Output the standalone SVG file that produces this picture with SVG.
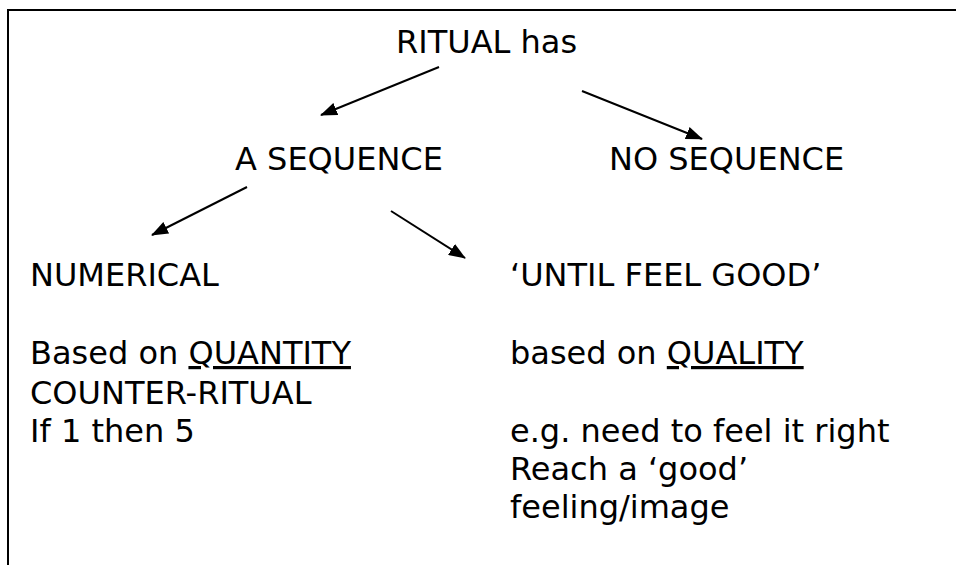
<svg xmlns="http://www.w3.org/2000/svg" width="956" height="565" viewBox="0 0 956 565">
  <style>
    text { font-family: "DejaVu Sans", Verdana, sans-serif; font-size: 32px; fill: #000; }
    .frame { stroke: #000; stroke-width: 2; fill: none; }
    .edge { stroke: #000; stroke-width: 2; fill: none; marker-end: url(#head); }
    .u { text-decoration: underline; }
  </style>
  <defs>
    <!-- solid triangular arrowhead, sized in user units -->
    <marker id="head" viewBox="0 0 17 13" refX="16" refY="6.5" markerWidth="17" markerHeight="13" markerUnits="userSpaceOnUse" orient="auto">
      <path d="M0,0 L17,6.5 L0,13 Z" fill="#000"/>
    </marker>
  </defs>
  <rect width="956" height="565" fill="#fff"/>

  <!-- page frame: top and left rules -->
  <path class="frame" d="M8,566 V10 H957"/>

  <g id="connectors">
    <line class="edge" x1="439" y1="67" x2="321" y2="115"/>
    <line class="edge" x1="582" y1="91" x2="702" y2="139"/>
    <line class="edge" x1="247" y1="187" x2="152" y2="235"/>
    <line class="edge" x1="391" y1="211" x2="465" y2="258"/>
  </g>

  <g id="ritual"><text x="396" y="53">RITUAL has</text></g>
  <g id="a-sequence"><text x="235" y="170">A SEQUENCE</text></g>
  <g id="no-sequence"><text x="609" y="170">NO SEQUENCE</text></g>

  <g id="numerical">
    <text x="30" y="286">NUMERICAL</text>
    <text x="30" y="364">Based on <tspan class="u">QUANTITY</tspan></text>
    <text x="30" y="404">COUNTER-RITUAL</text>
    <text x="30" y="442">If 1 then 5</text>
  </g>

  <g id="until-feel-good">
    <text x="510" y="286">‘UNTIL FEEL GOOD’</text>
    <text x="510" y="364">based on <tspan class="u">QUALITY</tspan></text>
    <text x="510" y="442">e.g. need to feel it right</text>
    <text x="510" y="480">Reach a ‘good’</text>
    <text x="510" y="518">feeling/image</text>
  </g>
</svg>
